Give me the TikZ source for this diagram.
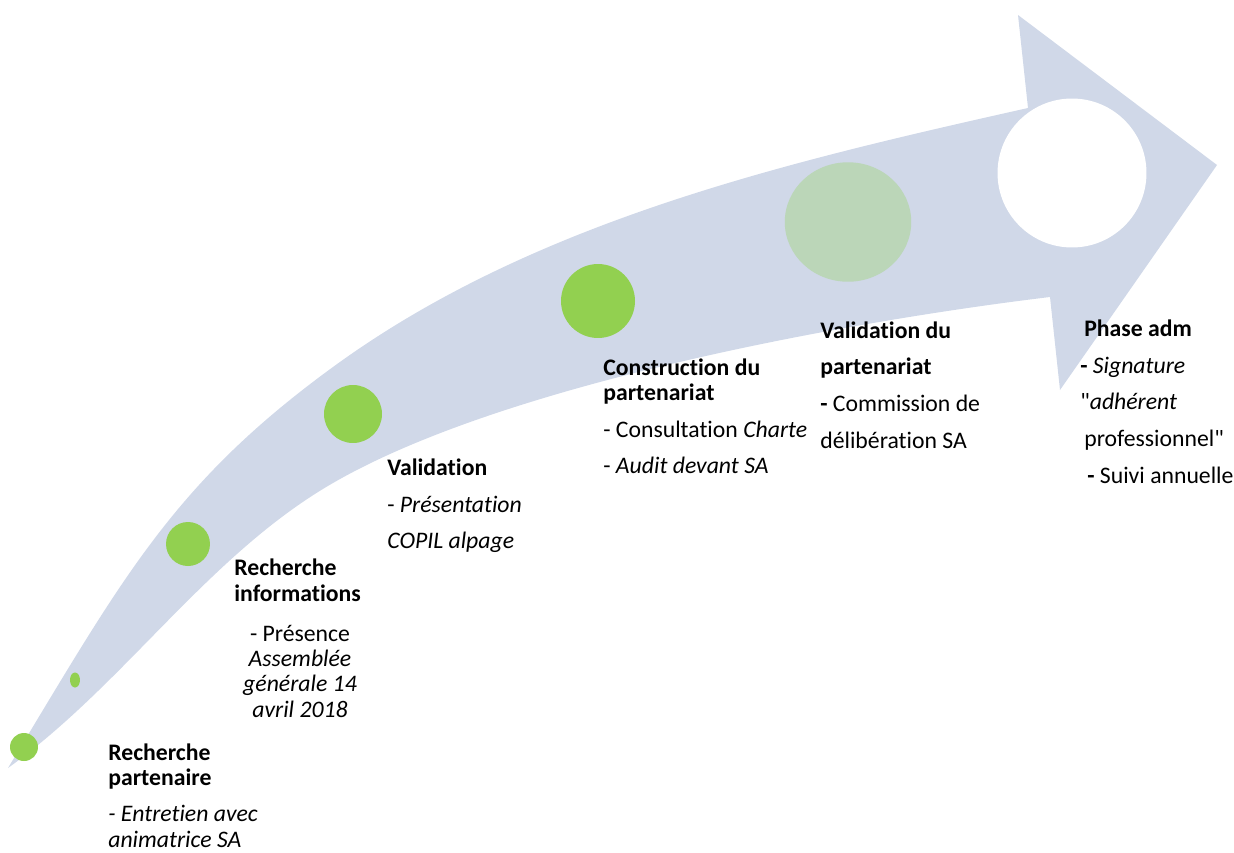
\documentclass[tikz,border=0pt]{standalone}
\usepackage{fontspec}
\setmainfont{Carlito}[Ligatures={TeXOff,CommonOff}]
\usetikzlibrary{shapes.geometric}
\definecolor{bandblue}{RGB}{208,216,232}
\definecolor{stepgreen}{RGB}{146,208,80}
\definecolor{sagegreen}{RGB}{187,214,184}

\begin{document}
\begin{tikzpicture}[x=0.02cm, y=-0.02cm,
    stagedot/.style={ellipse, fill=stepgreen, inner sep=0pt},
    stagetext/.style={anchor=base west, inner sep=0pt, align=left, font=\fontsize{13.5}{14.3}\selectfont}]
    \useasboundingbox (0,0) rectangle (1234,852);

    % curved arrow
    \fill[bandblue] (8,768) .. controls (122,580) and (171,485) .. (333,367)
        .. controls (533,221) and (787,162) .. (1028,108)
        -- (1018,15) -- (1217,165) -- (1060,390) -- (1050,297)
        .. controls (851,321) and (506,383) .. (333,483)
        .. controls (208,555) and (125,684) .. (8,768) -- cycle;

    % stages
    \node[stagedot, minimum width=0.56cm, minimum height=0.56cm] (d1) at (24,747) {};
    \node[stagedot, minimum width=0.2cm, minimum height=0.3cm] (d2) at (75,680) {};
    \node[stagedot, minimum width=0.88cm, minimum height=0.88cm] (d3) at (188,544) {};
    \node[stagedot, minimum width=1.16cm, minimum height=1.16cm] (d4) at (353,414) {};
    \node[stagedot, minimum width=1.48cm, minimum height=1.48cm] (d5) at (598,301) {};
    \node[stagedot, fill=sagegreen, minimum width=2.53cm, minimum height=2.39cm] (d6) at (848,222) {};
    \node[stagedot, fill=white, minimum width=2.98cm, minimum height=2.98cm] (d7) at (1072,173) {};

    % texts (placed at the baseline of their last line)
    \node[stagetext] (t1) at (108,847) {\textbf{Recherche}\\\textbf{partenaire}\\[6.5pt]\textit{- Entretien avec}\\\textit{animatrice SA}};
    \node[stagetext] (t2) at (234,601) {\textbf{Recherche}\\\textbf{informations}};
    \node[stagetext, anchor=base, align=center] (t2b) at (300,717) {- Présence\\\textit{Assemblée}\\\textit{générale 14}\\\textit{avril 2018}};
    \node[stagetext] (t3) at (387,548) {\textbf{Validation}\\[6.5pt]- \textit{Présentation}\\[6pt]\textit{COPIL alpage}};
    \node[stagetext] (t4) at (603,473) {\textbf{Construction du}\\\textbf{partenariat}\\[6.5pt]- Consultation \textit{Charte}\\[6pt]- \textit{Audit devant SA}};
    \node[stagetext] (t5) at (820,448) {\textbf{Validation du}\\[6.5pt]\textbf{partenariat}\\[6.5pt]\textbf{-} Commission de\\[6.5pt]délibération SA};
    \node[stagetext] (t6) at (1084,483) {\textbf{Phase adm}\\[6.5pt]\hspace*{-2.3pt}\textbf{-} \textit{Signature}\\[6.5pt]\hspace*{-2.3pt}"\textit{adhérent}\\[6.5pt]professionnel"\\[6.5pt]\hspace*{1.7pt}\textbf{-} Suivi annuelle};
\end{tikzpicture}
\end{document}
